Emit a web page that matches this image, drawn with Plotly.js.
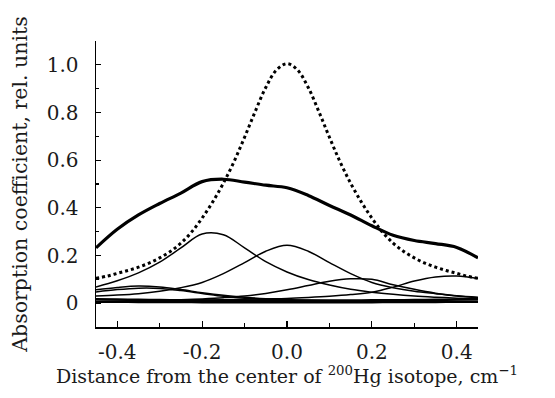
<!DOCTYPE html>
<html>
<head>
<meta charset="utf-8">
<script src="https://cdn.plot.ly/plotly-3.0.1.min.js"></script>
<style>html,body{margin:0;padding:0;background:#fff;}#chart{width:555px;height:398px;}</style>
</head>
<body>
<div id="chart"></div>
<script>
// x positions (cm^-1)
const xFine = [-0.45,-0.425,-0.40,-0.375,-0.35,-0.325,-0.30,-0.275,-0.25,-0.225,-0.20,-0.175,-0.15,-0.125,-0.10,-0.075,-0.05,-0.025,0,
  0.025,0.05,0.075,0.10,0.125,0.15,0.175,0.20,0.225,0.25,0.275,0.30,0.325,0.35,0.375,0.40,0.425,0.45];
const xCoarse = [-0.45,-0.40,-0.35,-0.30,-0.25,-0.20,-0.15,-0.10,-0.05,0,0.05,0.10,0.15,0.20,0.25,0.30,0.35,0.40,0.45];

// 200Hg reference line (dotted)
const hg200 = [0.104,0.113,0.125,0.137,0.151,0.168,0.19,0.217,0.252,0.298,0.357,0.425,0.503,0.593,0.696,0.804,0.905,0.978,1.005,
  0.978,0.905,0.804,0.696,0.593,0.503,0.425,0.357,0.298,0.252,0.217,0.19,0.168,0.151,0.137,0.125,0.113,0.104];

// total absorption (thick)
const total = [0.232,0.31,0.37,0.418,0.462,0.51,0.52,0.508,0.495,0.484,0.452,0.41,0.37,0.325,0.285,0.263,0.25,0.234,0.19];

// individual components (thin)
const compA1 = [0.056,0.066,0.072,0.068,0.057,0.044,0.033,0.025,0.019,0.015,0.012,0.010,0.009,0.008,0.007,0.006,0.006,0.005,0.005];
const compA2 = [0.047,0.057,0.063,0.062,0.053,0.041,0.029,0.021,0.016,0.012,0.010,0.008,0.007,0.006,0.005,0.005,0.004,0.004,0.004];
const compB  = [0.068,0.094,0.127,0.172,0.232,0.29,0.287,0.232,0.174,0.131,0.099,0.076,0.058,0.046,0.037,0.030,0.025,0.021,0.018];
const compC  = [0.030,0.034,0.040,0.050,0.065,0.087,0.124,0.170,0.218,0.243,0.218,0.170,0.124,0.087,0.065,0.050,0.040,0.031,0.025];
const compD  = [0.006,0.007,0.009,0.011,0.014,0.018,0.023,0.030,0.041,0.056,0.074,0.092,0.102,0.100,0.077,0.058,0.042,0.030,0.023];
const compE  = [0.006,0.007,0.008,0.009,0.010,0.012,0.014,0.016,0.018,0.020,0.024,0.029,0.036,0.046,0.067,0.093,0.110,0.114,0.103];
const compG1 = [0.016,0.015,0.014,0.013,0.012,0.012,0.011,0.011,0.011,0.011,0.011,0.011,0.011,0.012,0.012,0.013,0.014,0.015,0.016];
const compG2 = [0.006,0.006,0.005,0.005,0.005,0.004,0.004,0.004,0.004,0.004,0.004,0.004,0.004,0.004,0.005,0.005,0.005,0.006,0.006];

// tick labels
const xTickVals = [-0.4,-0.2,0,0.2,0.4];
const xTickText = ['-0.4','-0.2','0.0','0.2','0.4'];
const yTickVals = [0,0.2,0.4,0.6,0.8,1.0];
const yTickText = ['0','0.2','0.4','0.6','0.8','1.0'];

const thin = {color:'#000', width:1.5, shape:'spline', smoothing:1};
const base = {color:'#000', width:2.5, shape:'spline', smoothing:1};
const comps = [compA1, compA2, compB, compC, compD, compE];
const traces = comps.map(c => ({x:xCoarse, y:c, mode:'lines', line:thin, hoverinfo:'skip'}));
traces.push({x:xCoarse, y:compG1, mode:'lines', line:base});
traces.push({x:xCoarse, y:compG2, mode:'lines', line:base});
traces.push({x:xCoarse, y:total, mode:'lines', line:{color:'#000', width:3.2, shape:'spline', smoothing:1}});
traces.push({x:xFine, y:hg200, mode:'lines', line:{color:'#000', width:3, dash:'dot', shape:'spline', smoothing:1}});

const fam = '"DejaVu Serif", serif';
const layout = {
  width:555, height:398,
  margin:{l:96, r:77, t:41, b:71, pad:0},
  paper_bgcolor:'#fff', plot_bgcolor:'#fff',
  showlegend:false,
  font:{family:fam, size:20, color:'#1a1a1a'},
  xaxis:{
    range:[-0.45,0.45], showgrid:false, zeroline:false,
    showline:true, linecolor:'#000', linewidth:1.5,
    ticks:'inside', ticklen:6, tickwidth:1.2, tickcolor:'#000',
    tickvals:xTickVals, ticktext:xTickText,
    minor:{dtick:0.1, tick0:0, ticks:'inside', ticklen:4, tickwidth:1.2, tickcolor:'#000', showgrid:false},
    ticklabelstandoff:6,
    tickfont:{family:fam, size:20, color:'#1a1a1a'},
    title:{text:'Distance from the center of <sup>200</sup>Hg isotope, cm<sup>\u22121</sup>', standoff:7,
      font:{family:fam, size:19, color:'#1a1a1a'}}
  },
  yaxis:{
    range:[-0.1,1.1], showgrid:false, zeroline:false,
    showline:true, linecolor:'#000', linewidth:1.5,
    ticks:'inside', ticklen:5, tickwidth:1.2, tickcolor:'#000',
    tickvals:yTickVals, ticktext:yTickText,
    minor:{dtick:0.1, tick0:0, ticks:'inside', ticklen:3, tickwidth:1.2, tickcolor:'#000', showgrid:false},
    ticklabelstandoff:12,
    tickfont:{family:fam, size:20, color:'#1a1a1a'},
    title:{text:'Absorption coefficient, rel. units', standoff:13,
      font:{family:fam, size:20.5, color:'#1a1a1a'}}
  }
};
Plotly.newPlot('chart', traces, layout, {staticPlot:true, displayModeBar:false});
</script>
</body>
</html>
